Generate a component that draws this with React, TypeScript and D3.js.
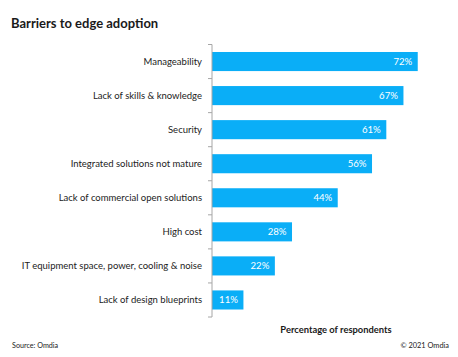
import React from "react";
import * as d3 from "d3";

const categories = [
  "Manageability",
  "Lack of skills & knowledge",
  "Security",
  "Integrated solutions not mature",
  "Lack of commercial open solutions",
  "High cost",
  "IT equipment space, power, cooling & noise",
  "Lack of design blueprints",
];
const values = [72, 67, 61, 56, 44, 28, 22, 11];

const W = 458;
const H = 357;
const FONT = "Lato, 'Open Sans', sans-serif";

export default function App() {
  const x0 = 212;
  const x = d3.scaleLinear().domain([0, 80]).range([x0, x0 + 228.6]);
  const y = d3.scaleBand<string>().domain(categories).range([44.5, 317]).paddingInner(0.44).paddingOuter(0.22);
  const ticks = d3.range(categories.length + 1).map((i) => 44.5 + ((317 - 44.5) / categories.length) * i);
  return (
    <div style={{ position: "absolute", left: 0, top: 0 }}>
      <svg width={W} height={H} style={{ display: "block", background: "#fff" }} fontFamily={FONT}>
        <text x={11} y={28} fontSize={13} fontWeight="bold" fill="#1a1a1a">
          Barriers to edge adoption
        </text>
        {categories.map((c, i) => (
          <g key={c}>
            <rect x={x(0)} y={y(c)!} width={x(values[i]) - x(0)} height={y.bandwidth()} fill="#0AAEF7" />
            <text
              x={x(values[i]) - 5.5}
              y={y(c)! + y.bandwidth() / 2}
              dy="0.36em"
              textAnchor="end"
              fontSize={9.6}
              fill="#fff"
            >
              {values[i]}%
            </text>
            <text
              x={202}
              y={y(c)! + y.bandwidth() / 2}
              dy="0.36em"
              textAnchor="end"
              fontSize={9.5}
              fill="#222"
            >
              {c}
            </text>
          </g>
        ))}
        <line x1={x0} x2={x0} y1={44.5} y2={317} stroke="#a6a6a6" strokeWidth={1} />
        {ticks.map((t, i) => (
          <line key={i} x1={x0 - 4} x2={x0} y1={t} y2={t} stroke="#a6a6a6" strokeWidth={1} />
        ))}
        <text x={336} y={333} textAnchor="middle" fontSize={9.4} fontWeight="bold" fill="#1a1a1a">
          Percentage of respondents
        </text>
        <text x={12} y={348} fontSize={7.2} fill="#222">
          Source: Omdia
        </text>
        <text x={449} y={348} textAnchor="end" fontSize={7.4} fill="#222">
          © 2021 Omdia
        </text>
      </svg>
    </div>
  );
}
